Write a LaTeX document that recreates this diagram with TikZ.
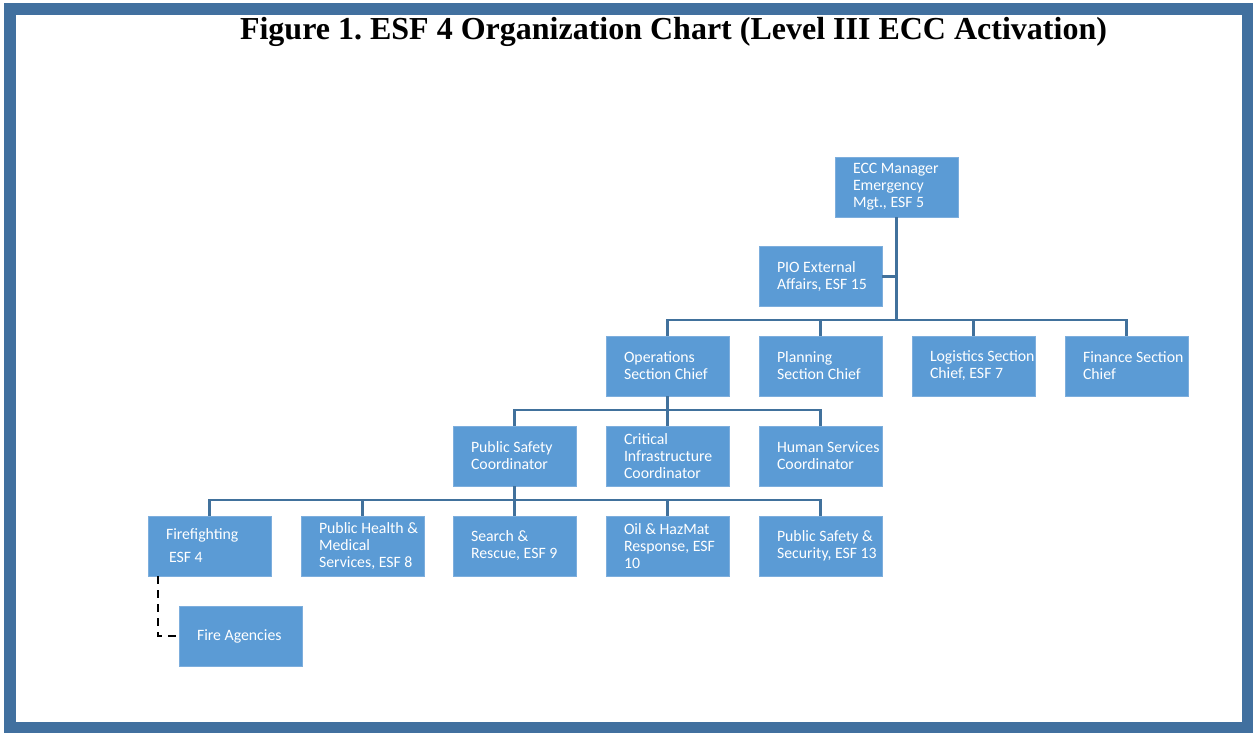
\documentclass[tikz,border=0pt]{standalone}
\usepackage{fontspec}
\setmainfont{Carlito}
\newfontfamily\titlefont{Liberation Serif}
\frenchspacing
\usetikzlibrary{positioning}
\definecolor{boxfill}{HTML}{5B9BD5}
\definecolor{boxedge}{HTML}{7DAEDD}
\definecolor{conncol}{HTML}{41719C}
\definecolor{framecol}{HTML}{41709F}
\tikzset{
  orgbox/.style={rectangle, fill=boxfill, draw=boxedge, line width=0.6pt,
    minimum width=123pt, minimum height=60pt, inner sep=0pt, text=white,
    font=\fontsize{15.8}{17}\selectfont,
    execute at begin node={\hspace*{18pt}\begin{minipage}{105pt}\raggedright},
    execute at end node={\end{minipage}}},
  conn/.style={draw=conncol, line width=2.5pt, line join=miter},
  dashconn/.style={draw=black, line width=2.2pt, dash pattern=on 8pt off 6pt}
}
\begin{document}
\begin{tikzpicture}[x=1pt,y=-1pt]
\useasboundingbox (0,0) rectangle (1253,732);
\draw[framecol, line width=12pt] (10,8.5) rectangle (1248,727.5);
\node[font=\titlefont\bfseries\fontsize{32}{34}\selectfont, anchor=base] (title) at (673.5,39.5) {Figure 1. ESF 4 Organization Chart (Level III ECC Activation)};

\node[orgbox] (ecc) at (896.5,187) {ECC Manager\\Emergency\\Mgt., ESF 5};
\node[orgbox] (pio) at (820.5,276.5) {PIO External\\Affairs, ESF 15};

\node[orgbox] (ops) at (667.5,366) {Operations\\Section Chief};
\node[orgbox] (plan) at (820.5,366) {Planning\\Section Chief};
\node[orgbox] (log) at (973.5,366) {Logistics~Section\\Chief, ESF 7};
\node[orgbox] (fin) at (1126.5,366) {Finance~Section\\Chief};

\node[orgbox] (psc) at (514.5,456) {Public Safety\\Coordinator};
\node[orgbox] (cic) at (667.5,456) {Critical\\Infrastructure\\Coordinator};
\node[orgbox] (hsc) at (820.5,456) {Human~Services\\Coordinator};

\node[orgbox] (ff) at (209.5,546) {Firefighting\\[6pt]\hspace*{3pt}ESF 4};
\node[orgbox] (ph) at (362.5,546) {Public~Health~\&\\Medical\\Services, ESF 8};
\node[orgbox] (sr) at (514.5,546) {Search \&\\Rescue, ESF 9};
\node[orgbox] (oil) at (667.5,546) {Oil \& HazMat\\Response, ESF\\10};
\node[orgbox] (pss) at (820.5,546) {Public~Safety~\&\\Security, ESF~13};

\node[orgbox] (fa) at (240.5,636) {Fire Agencies};

\coordinate (bus1) at (896.5,320);
\coordinate (bus2) at (667.5,410);
\coordinate (bus3) at (514.5,500);

\draw[conn] (ecc.south) -- (bus1);
\draw[conn] (pio.east) -- (pio.east -| ecc.south);
\draw[conn] (ops.north) |- (bus1);
\draw[conn] (fin.north) |- (bus1);
\draw[conn] (plan.north) -- (plan.north |- bus1);
\draw[conn] (log.north) -- (log.north |- bus1);

\draw[conn] (ops.south) -- (bus2);
\draw[conn] (psc.north) |- (bus2);
\draw[conn] (hsc.north) |- (bus2);
\draw[conn] (cic.north) -- (bus2);

\draw[conn] (psc.south) -- (bus3);
\draw[conn] (ff.north) |- (bus3);
\draw[conn] (pss.north) |- (bus3);
\draw[conn] (ph.north) -- (ph.north |- bus3);
\draw[conn] (sr.north) -- (bus3);
\draw[conn] (oil.north) -- (oil.north |- bus3);

\draw[dashconn] ([xshift=10pt]ff.south west) |- (fa.west);
\end{tikzpicture}
\end{document}
